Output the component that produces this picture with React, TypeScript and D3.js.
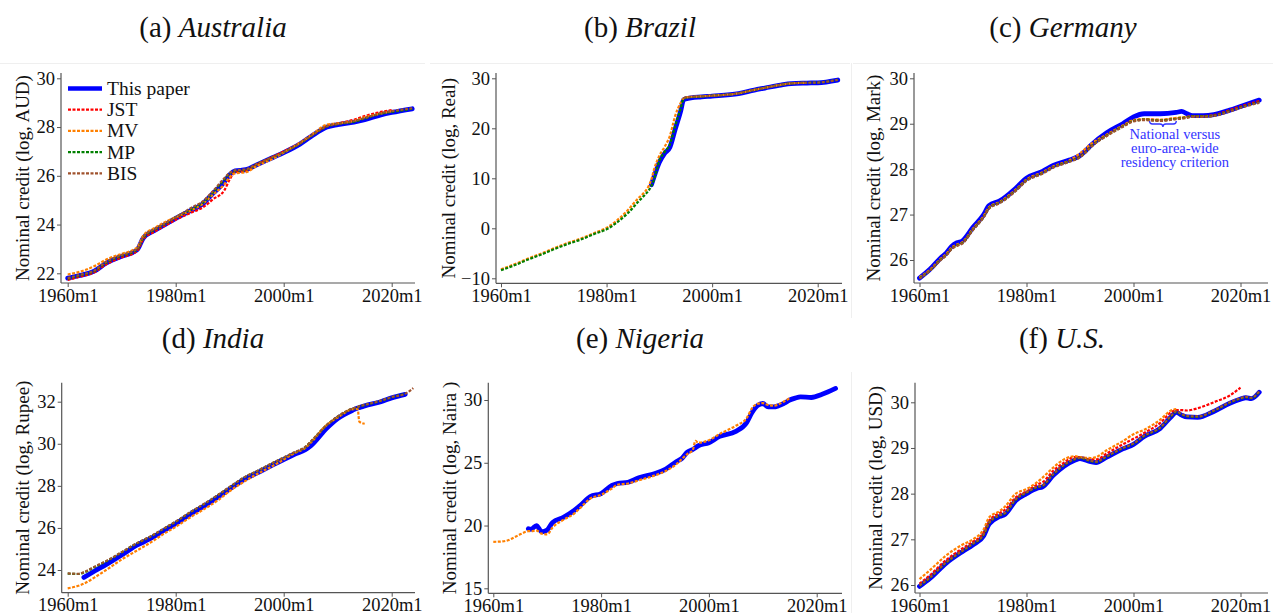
import React, { useEffect, useRef } from "react"
import * as d3 from "d3"

// ---- data (log nominal credit) ----
const seriesNames = ["This paper", "JST", "MV", "MP", "BIS"]
const seriesColors = ["#0000ff", "#ff0000", "#ff8000", "#008000", "#a0522d"]
const xTicks = [1960, 1980, 2000, 2020]
const xTickLabels = ["1960m1", "1980m1", "2000m1", "2020m1"]

const ausYears = [1960, 1962, 1965, 1967, 1970, 1972, 1973, 1974, 1976, 1978, 1980, 1983, 1985, 1987, 1989, 1990, 1991, 1993, 1995, 1998, 2000, 2003, 2005, 2008, 2010, 2013, 2015, 2018, 2020, 2023.8]
const ausPaper = [21.8, 21.9, 22.1, 22.4, 22.7, 22.85, 23.0, 23.45, 23.75, 24.0, 24.25, 24.6, 24.85, 25.3, 25.75, 26.05, 26.2, 26.25, 26.45, 26.75, 26.95, 27.3, 27.6, 28.0, 28.1, 28.2, 28.3, 28.5, 28.6, 28.75]
const ausJST = [21.72, 21.85, 22.05, 22.35, 22.65, 22.8, 22.95, 23.4, 23.7, 23.95, 24.2, 24.5, 24.7, 25.05, 25.4, 25.85, 26.15, 26.2, 26.45, 26.78, 27.0, 27.35, 27.65, 28.05, 28.15, 28.3, 28.45, 28.62, 28.7, null]
const ausMV = [21.95, 22.05, 22.3, 22.55, 22.8, 22.95, 23.1, 23.55, 23.85, 24.1, 24.3, 24.6, 24.85, 25.25, 25.65, 25.95, 26.1, 26.15, 26.4, 26.7, 26.95, 27.35, 27.65, 28.1, 28.15, 28.25, 28.4, 28.55, 28.65, null]
const ausMP = [21.78, 21.9, 22.1, 22.42, 22.72, 22.87, 23.02, 23.45, 23.78, 24.02, 24.3, 24.65, 24.9, 25.35, 25.85, 26.1, 26.2, 26.25, 26.47, 26.77, 26.97, 27.32, 27.62, 28.02, 28.12, 28.22, 28.35, 28.55, 28.62, 28.75]
const ausBIS = [21.8, 21.92, 22.12, 22.45, 22.75, 22.9, 23.05, 23.5, 23.8, 24.05, 24.3, 24.7, 24.95, 25.4, 25.9, 26.12, 26.22, 26.27, 26.48, 26.78, 26.98, 27.33, 27.63, 28.03, 28.13, 28.25, 28.37, 28.57, 28.65, 28.77]

const braYears = [1960, 1963, 1965, 1968, 1970, 1973, 1975, 1978, 1980, 1982, 1984, 1986, 1987, 1988, 1988.5, 1989, 1990, 1991, 1992, 1993, 1994, 1994.6, 1995, 1998, 2000, 2005, 2008, 2010, 2013, 2015, 2018, 2020, 2023.8]
const braPaper = [null, null, null, null, null, null, null, null, null, null, null, null, null, null, 8.7, 10.3, 13.2, 15.0, 16.2, 19.8, 23.3, 25.7, 25.9, 26.3, 26.45, 26.95, 27.65, 28.05, 28.65, 28.95, 29.05, 29.1, 29.65]
const braJST = braYears.map(() => null)
const braMV = [-8.2, -7.0, -6.1, -4.9, -4.0, -2.8, -2.1, -0.8, 0.1, 1.6, 3.6, 6.0, 7.0, 8.5, 9.8, 11.8, 14.5, 16.3, 18.5, 22.5, 25.0, 26.0, 26.2, 26.4, 26.55, 27.0, 27.7, 28.1, 28.7, 29.0, 29.1, null, null]
const braMP = [-8.4, -7.2, -6.3, -5.1, -4.2, -3.0, -2.3, -1.0, -0.2, 1.2, 3.0, 5.3, 6.4, 7.6, 8.5, 9.8, 13.5, 15.3, 16.8, 20.5, 23.8, 25.9, 26.1, 26.35, 26.5, 27.0, 27.7, 28.1, 28.7, 29.0, 29.1, 29.15, 29.7]
const braBIS = [null, null, null, null, null, null, null, null, null, null, null, null, null, null, null, null, null, null, null, null, null, 26.0, 26.2, 26.4, 26.5, 27.0, 27.7, 28.1, 28.7, 29.0, 29.1, 29.15, 29.7]

const gerYears = [1960, 1962, 1964, 1965, 1966, 1967, 1968, 1970, 1972, 1973, 1975, 1978, 1980, 1983, 1985, 1988, 1990, 1991, 1992, 1995, 1998, 2000, 2002, 2005, 2008, 2009, 2010, 2011, 2013, 2015, 2018, 2020, 2023.5]
const gerPaper = [25.6, 25.8, 26.05, 26.15, 26.3, 26.38, 26.42, 26.72, 27.0, 27.2, 27.3, 27.58, 27.8, 27.95, 28.08, 28.2, 28.3, 28.4, 28.52, 28.8, 29.0, 29.15, 29.22, 29.22, 29.25, 29.27, 29.22, 29.18, 29.18, 29.2, 29.3, 29.38, 29.52]
const gerJST = [25.6, 25.78, 26.02, 26.12, 26.26, 26.33, 26.38, 26.68, 26.96, 27.15, 27.27, 27.54, 27.76, 27.92, 28.05, 28.18, 28.28, 28.38, 28.5, 28.75, 28.95, 29.07, 29.1, 29.08, 29.12, 29.13, 29.15, 29.17, 29.17, 29.19, 29.3, 29.38, 29.5]
const gerMV = [25.62, 25.79, 26.03, 26.13, 26.27, 26.34, 26.39, 26.69, 26.97, 27.16, 27.28, 27.55, 27.77, 27.93, 28.06, 28.19, 28.35, 28.45, 28.55, 28.76, 28.96, 29.08, 29.1, 29.09, 29.13, 29.14, 29.15, 29.16, 29.16, 29.18, null, null, null]
const gerMP = [25.6, 25.77, 26.01, 26.11, 26.25, 26.32, 26.37, 26.67, 26.95, 27.14, 27.26, 27.53, 27.75, 27.91, 28.04, 28.17, 28.27, 28.37, 28.49, 28.74, 28.94, 29.06, 29.09, 29.07, 29.11, 29.12, 29.14, 29.16, 29.16, 29.18, 29.28, 29.36, 29.47]
const gerBIS = [25.59, 25.77, 26.0, 26.1, 26.24, 26.31, 26.36, 26.66, 26.94, 27.13, 27.25, 27.52, 27.74, 27.9, 28.03, 28.16, 28.26, 28.36, 28.48, 28.73, 28.93, 29.05, 29.08, 29.06, 29.1, 29.11, 29.13, 29.15, 29.15, 29.17, 29.27, 29.35, 29.46]

const indYears = [1960, 1962, 1963, 1965, 1968, 1970, 1973, 1975, 1978, 1980, 1983, 1985, 1988, 1990, 1993, 1995, 1998, 2000, 2002, 2004, 2005, 2008, 2010, 2013, 2013.7, 2014, 2015, 2018, 2020, 2022.5, 2024]
const indPaper = [null, null, 23.65, 23.95, 24.4, 24.72, 25.2, 25.45, 25.9, 26.2, 26.7, 27.0, 27.5, 27.85, 28.35, 28.6, 29.0, 29.25, 29.5, 29.72, 29.9, 30.75, 31.2, 31.62, 31.7, 31.72, 31.8, 32.0, 32.18, 32.35, null]
const indJST = indYears.map(() => null)
const indMV = [23.13, 23.25, 23.35, 23.65, 24.15, 24.5, 24.95, 25.25, 25.75, 26.05, 26.55, 26.85, 27.35, 27.75, 28.25, 28.55, 28.95, 29.25, 29.55, 29.8, 30.05, 30.9, 31.25, 31.65, 31.65, 31.05, 30.95, null, null, null, null]
const indMP = [23.83, 23.81, 23.88, 24.14, 24.53, 24.84, 25.29, 25.54, 25.99, 26.29, 26.79, 27.09, 27.59, 27.94, 28.44, 28.69, 29.09, 29.34, 29.59, 29.84, 30.09, 30.89, 31.29, 31.69, 31.74, 31.77, 31.84, 32.04, 32.21, 32.37, null]
const indBIS = [23.84, 23.82, 23.9, 24.16, 24.55, 24.85, 25.3, 25.55, 26.0, 26.3, 26.8, 27.1, 27.6, 27.95, 28.45, 28.7, 29.1, 29.35, 29.6, 29.85, 30.1, 30.9, 31.3, 31.7, 31.75, 31.78, 31.85, 32.05, 32.22, 32.38, 32.65]

const nigYears = [1960, 1962, 1965, 1966, 1966.5, 1967, 1968, 1969, 1970, 1971, 1973, 1975, 1976, 1978, 1980, 1982, 1983, 1985, 1987, 1990, 1992, 1994, 1995, 1996, 1997, 1997.5, 1998, 2000, 2002, 2005, 2007, 2008, 2009, 2010, 2011, 2012, 2014, 2015, 2016, 2017, 2019, 2021, 2023.5]
const nigPaper = [null, null, null, null, 19.75, 19.7, 20.0, 19.5, 19.65, 20.25, 20.65, 21.2, 21.55, 22.3, 22.55, 23.2, 23.35, 23.45, 23.8, 24.15, 24.5, 25.1, 25.35, 25.85, 26.05, 26.2, 26.35, 26.6, 27.1, 27.5, 28.2, 29.0, 29.55, 29.72, 29.45, 29.45, 29.75, 30.0, 30.15, 30.25, 30.2, 30.45, 30.92]
const nigJST = nigYears.map(() => null)
const nigMV = [18.7, 18.75, 19.3, 19.5, 19.55, 19.55, 19.6, 19.35, 19.3, 19.85, 20.45, 20.95, 21.35, 22.15, 22.45, 22.95, 23.25, 23.35, 23.6, 24.0, 24.35, 24.9, 25.3, 25.7, 26.0, 26.75, 26.6, 26.8, 27.3, 27.95, 28.55, 29.35, 29.7, 29.75, 29.6, 29.55, 29.9, 30.15, null, null, null, null, null]
const nigMP = nigYears.map(() => null)
const nigBIS = nigYears.map(() => null)

const usaYears = [1960, 1962, 1965, 1968, 1970, 1972, 1973, 1975, 1976, 1978, 1980, 1982, 1983, 1985, 1987, 1989, 1990, 1992, 1993, 1995, 1998, 2000, 2002, 2005, 2007, 2008, 2009, 2010, 2012, 2015, 2018, 2020, 2021, 2022, 2023.5]
const usaPaper = [25.97, 26.15, 26.48, 26.73, 26.88, 27.08, 27.33, 27.5, 27.55, 27.85, 28.0, 28.12, 28.15, 28.4, 28.6, 28.73, 28.77, 28.7, 28.68, 28.8, 28.98, 29.08, 29.25, 29.43, 29.68, 29.78, 29.72, 29.68, 29.67, 29.8, 29.98, 30.07, 30.1, 30.08, 30.22]
const usaJST = [26.03, 26.22, 26.55, 26.8, 26.95, 27.15, 27.4, 27.58, 27.65, 27.92, 28.05, 28.2, 28.25, 28.5, 28.68, 28.8, 28.8, 28.75, 28.75, 28.88, 29.08, 29.2, 29.33, 29.55, 29.78, 29.83, 29.83, 29.82, 29.87, 30.0, 30.15, 30.32, null, null, null]
const usaMV = [26.13, 26.33, 26.65, 26.88, 27.0, 27.22, 27.48, 27.62, 27.72, 28.0, 28.1, 28.25, 28.35, 28.57, 28.75, 28.82, 28.8, 28.78, 28.8, 28.95, 29.15, 29.3, 29.4, 29.62, 29.82, 29.85, null, null, null, null, null, null, null, null, null]
const usaMP = [25.98, 26.16, 26.49, 26.74, 26.9, 27.1, 27.35, 27.52, 27.57, 27.87, 28.02, 28.14, 28.17, 28.42, 28.62, 28.75, 28.78, 28.71, 28.69, 28.81, 28.99, 29.09, 29.26, 29.44, 29.69, 29.79, 29.73, 29.69, 29.68, 29.81, 29.99, 30.08, 30.11, 30.09, 30.23]
const usaBIS = [25.99, 26.17, 26.5, 26.75, 26.91, 27.11, 27.36, 27.53, 27.58, 27.88, 28.03, 28.15, 28.18, 28.43, 28.63, 28.76, 28.79, 28.72, 28.7, 28.82, 29.0, 29.1, 29.27, 29.45, 29.7, 29.8, 29.74, 29.7, 29.69, 29.82, 30.0, 30.09, 30.12, 30.1, 30.24]

// ---- layout per panel ----
const panels = [
  { tag: "(a)", name: "Australia", unit: "AUD", years: ausYears, series: [ausPaper, ausJST, ausMV, ausMP, ausBIS],
    yTicks: [22, 24, 26, 28, 30], yPix: [273.3, 78.3], xPix: [67.7, 391.7], box: [61, 415, 73, 283], labelX: 22, titleX: 213, titleY: 37 },
  { tag: "(b)", name: "Brazil", unit: "Real", years: braYears, series: [braPaper, braJST, braMV, braMP, braBIS],
    yTicks: [-10, 0, 10, 20, 30], yPix: [278.3, 78.3], xPix: [501, 817.7], box: [496, 842, 73, 283.3], labelX: 448, titleX: 640, titleY: 37 },
  { tag: "(c)", name: "Germany", unit: "Mark", years: gerYears, series: [gerPaper, gerJST, gerMV, gerMP, gerBIS],
    yTicks: [26, 27, 28, 29, 30], yPix: [260, 78.3], xPix: [919.5, 1240.5], box: [914, 1268, 73, 283], labelX: 873, titleX: 1063, titleY: 37 },
  { tag: "(d)", name: "India", unit: "Rupee", years: indYears, series: [indPaper, indJST, indMV, indMP, indBIS],
    yTicks: [24, 26, 28, 30, 32], yPix: [570, 401.7], xPix: [67.7, 391.7], box: [61.7, 415, 382.7, 592.7], labelX: 22, titleX: 213, titleY: 348 },
  { tag: "(e)", name: "Nigeria", unit: "Naira ", years: nigYears, series: [nigPaper, nigJST, nigMV, nigMP, nigBIS],
    yTicks: [15, 20, 25, 30], yPix: [588.3, 400], xPix: [493.3, 816.7], box: [488.3, 842, 382.7, 593.3], labelX: 449, titleX: 640, titleY: 348 },
  { tag: "(f)", name: "U.S.", unit: "USD", years: usaYears, series: [usaPaper, usaJST, usaMV, usaMP, usaBIS],
    yTicks: [26, 27, 28, 29, 30], yPix: [585, 402.3], xPix: [919.5, 1240.5], box: [915, 1268, 382.7, 593], labelX: 875, titleX: 1062, titleY: 348 },
]

const FONT = "'Liberation Serif', 'Times New Roman', serif"

export default function App() {
  const svgRef = useRef<SVGSVGElement>(null)

  useEffect(() => {
    const svg = d3.select(svgRef.current)
    svg.selectAll("*").remove()
    svg.append("rect").attr("width", 1273).attr("height", 613).attr("fill", "#fff")

    // faint panel frame lines
    ;[[0, 425], [430, 850], [853, 1273]].forEach(([a, b]) =>
      svg.append("line").attr("x1", a).attr("x2", b).attr("y1", 63.5).attr("y2", 63.5).attr("stroke", "#efefef"))
    ;[[63, 318], [372, 613]].forEach(([a, b]) =>
      svg.append("line").attr("x1", 851.5).attr("x2", 851.5).attr("y1", a).attr("y2", b).attr("stroke", "#efefef"))

    panels.forEach((p, pi) => {
      const [left, right, top, bottom] = p.box
      const x = d3.scaleLinear().domain([1960, 2020]).range(p.xPix)
      const y = d3.scaleLinear().domain([p.yTicks[0], p.yTicks[p.yTicks.length - 1]]).range(p.yPix)
      const g = svg.append("g")

      // title
      const t = g.append("text").attr("x", p.titleX).attr("y", p.titleY).attr("text-anchor", "middle")
        .style("font-family", FONT).style("font-size", "29px").attr("fill", "#111")
      t.append("tspan").text(p.tag + " ")
      t.append("tspan").attr("font-style", "italic").text(p.name)

      // axes
      const xAxis = g.append("g").attr("transform", `translate(0,${bottom})`)
        .call(d3.axisBottom(x).tickValues(xTicks).tickFormat((d, i) => xTickLabels[i]).tickSize(4).tickPadding(1.5))
      const yAxis = g.append("g").attr("transform", `translate(${left},0)`)
        .call(d3.axisLeft(y).tickValues(p.yTicks).tickFormat(d3.format("d")).tickSize(4).tickPadding(2))
      ;[xAxis, yAxis].forEach(a => {
        a.select(".domain").remove()
        a.selectAll("line").attr("stroke", "#555")
        a.selectAll("text").style("font-family", FONT).style("font-size", "18.5px").attr("fill", "#111")
      })
      g.append("line").attr("x1", left).attr("x2", right).attr("y1", bottom).attr("y2", bottom).attr("stroke", "#555").attr("stroke-width", 1.2)
      g.append("line").attr("x1", left).attr("x2", left).attr("y1", top).attr("y2", bottom).attr("stroke", "#555").attr("stroke-width", 1.2)

      g.append("text")
        .attr("transform", `translate(${p.labelX},${(top + bottom) / 2}) rotate(-90)`)
        .attr("text-anchor", "middle").attr("dy", "0.35em")
        .style("font-family", FONT).style("font-size", "19px").attr("fill", "#111")
        .text(`Nominal credit (log, ${p.unit})`)

      // series
      p.series.forEach((vals, si) => {
        const pts = p.years.map((yr, i) => [yr, vals[i]] as [number, number | null])
        const line = d3.line<[number, number | null]>()
          .defined(d => d[1] != null)
          .x(d => x(d[0]))
          .y(d => y(d[1] as number))
          .curve(d3.curveMonotoneX)
        const path = g.append("path").datum(pts).attr("d", line).attr("fill", "none")
          .attr("stroke", seriesColors[si])
        if (si === 0) path.attr("stroke-width", 4.8).attr("stroke-linejoin", "round").attr("stroke-linecap", "round")
        else path.attr("stroke-width", 2.2).attr("stroke-dasharray", "3,1.5")
      })

      // legend in first panel
      if (pi === 0) {
        seriesNames.forEach((n, i) => {
          const cy = 88.5 + i * 21.2
          const l = g.append("line").attr("x1", 68).attr("x2", 102).attr("y1", cy).attr("y2", cy).attr("stroke", seriesColors[i])
          if (i === 0) l.attr("stroke-width", 4.5)
          else l.attr("stroke-width", 2.2).attr("stroke-dasharray", "3,1.5")
          g.append("text").attr("x", 107).attr("y", cy + 6.5).style("font-family", FONT).style("font-size", "19.5px")
            .attr("fill", "#111").text(n)
        })
      }

      // annotation in Germany panel
      if (pi === 2) {
        const x1 = x(2003), x2 = x(2008), xm = (x1 + x2) / 2, y0 = y(29.06)
        g.append("path")
          .attr("d", `M${x1},${y0} Q${x1},${y0 + 3} ${x1 + 3},${y0 + 3} L${xm - 3},${y0 + 3} Q${xm},${y0 + 3} ${xm},${y0 + 6} Q${xm},${y0 + 3} ${xm + 3},${y0 + 3} L${x2 - 3},${y0 + 3} Q${x2},${y0 + 3} ${x2},${y0}`)
          .attr("fill", "none").attr("stroke", "#3333ff").attr("stroke-width", 1.3)
        ;["National versus", "euro-area-wide", "residency criterion"].forEach((s, i) => {
          g.append("text").attr("x", xm + 12).attr("y", y0 + 18 + i * 14).attr("text-anchor", "middle")
            .style("font-family", FONT).style("font-size", "14.5px").attr("fill", "#3333ff").text(s)
        })
      }
    })
  }, [])

  return (
    <svg ref={svgRef} width={1273} height={613} style={{ position: "absolute", left: 0, top: 0 }} />
  )
}
